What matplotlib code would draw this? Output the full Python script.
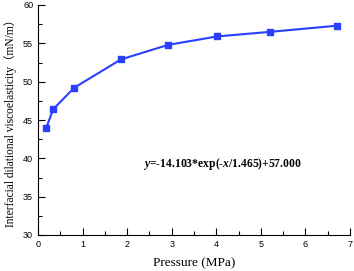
import matplotlib
matplotlib.use("Agg")
import matplotlib.pyplot as plt
from matplotlib.ticker import MultipleLocator

pressure = [0.18, 0.34, 0.81, 1.86, 2.92, 4.02, 5.21, 6.71]
viscoelasticity = [43.9, 46.4, 49.2, 52.9, 54.8, 55.9, 56.5, 57.3]
xlabel = "Pressure (MPa)"
ylabel = "Interfacial dilational viscoelasticity（mN/m）"
equation = r"$\mathbf{\mathit{y}}$=-14.103*exp(-$\mathbf{\mathit{x}}$/1.465)+57.000"

plt.rcParams['font.family'] = ['Liberation Serif', 'Noto Sans CJK SC']
plt.rcParams['mathtext.fontset'] = 'custom'
plt.rcParams['mathtext.it'] = 'Liberation Serif:italic:bold'
plt.rcParams['mathtext.bf'] = 'Liberation Serif:bold'

fig = plt.figure(figsize=(3.54, 2.71), dpi=100)
ax = fig.add_axes([38/354, 36/271, (350-38)/354, (235-5)/271])
color = '#2a3fff'
ax.plot(pressure, viscoelasticity, '-s', color=color, lw=1.5, markersize=5)
ax.set_xlim(0, 7)
ax.set_ylim(30, 60)
ax.xaxis.set_major_locator(MultipleLocator(1))
ax.xaxis.set_minor_locator(MultipleLocator(0.5))
ax.yaxis.set_major_locator(MultipleLocator(5))
ax.yaxis.set_minor_locator(MultipleLocator(2.5))
ax.tick_params(which='both', direction='in', labelsize=6.5, width=0.8,
               labelfontfamily='Liberation Sans')
ax.tick_params(which='major', length=5)
ax.tick_params(which='minor', length=3)
ax.spines['top'].set_visible(False)
ax.spines['right'].set_visible(False)
ax.set_xlabel(xlabel, fontsize=9.5, labelpad=6)
ax.set_ylabel(ylabel, fontsize=8.3, labelpad=4)
ax.text(2.36, 39.3, equation, fontsize=8.4, fontweight='bold', va='center', ha='left')
fig.savefig("out.png", dpi=100)
